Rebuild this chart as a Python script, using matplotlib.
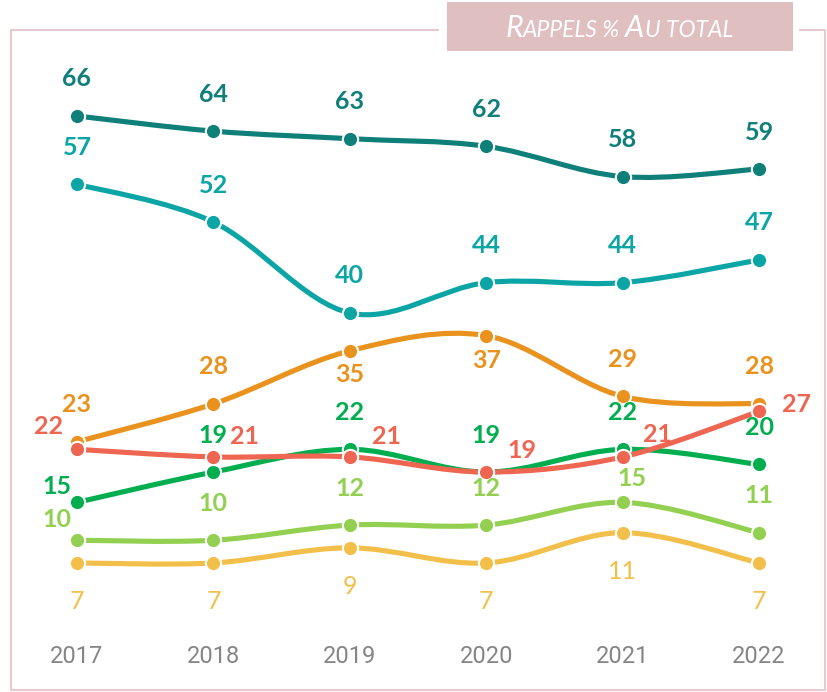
#!/usr/bin/env python3
"""Rappels % au total, 2017-2022"""
import matplotlib
matplotlib.use('Agg')
import matplotlib.pyplot as plt
from matplotlib.path import Path
from matplotlib.patches import PathPatch, Rectangle
from matplotlib.lines import Line2D
from matplotlib.offsetbox import TextArea, HPacker, AnnotationBbox

years = [2017, 2018, 2019, 2020, 2021, 2022]

dark_teal = [66, 64, 63, 62, 58, 59]
teal = [57, 52, 40, 44, 44, 47]
orange = [23, 28, 35, 37, 29, 28]
green = [15, 19, 22, 19, 22, 20]
light_green = [10, 10, 12, 12, 15, 11]
yellow = [7, 7, 9, 7, 11, 7]
red = [22, 21, 21, 19, 21, 27]

W, H = 827, 692


def smooth_path(xs, ys):
    """Excel-like smoothed line (Catmull-Rom bezier)"""
    n = len(xs)
    verts = [(xs[0], ys[0])]
    codes = [Path.MOVETO]
    for i in range(n - 1):
        a = max(i - 1, 0)
        b = min(i + 2, n - 1)
        c1 = (xs[i] + (xs[i + 1] - xs[a]) / 6, ys[i] + (ys[i + 1] - ys[a]) / 6)
        c2 = (xs[i + 1] - (xs[b] - xs[i]) / 6, ys[i + 1] - (ys[b] - ys[i]) / 6)
        verts += [c1, c2, (xs[i + 1], ys[i + 1])]
        codes += [Path.CURVE4] * 3
    return Path(verts, codes)


up = (0, 37)
series = [
    (dark_teal, '#0F7F7A', 'bold', [up] * 6),
    (teal, '#0BA5A6', 'bold', [up] * 6),
    (orange, '#EA921E', 'bold', [up, up, (0, -24), (0, -25), up, up]),
    (green, '#00AE50', 'bold', [(-20, 16), up, up, up, up, up]),
    (light_green, '#93D051', 'bold', [(-20, 21), up, up, up, (9, 24), up]),
    (yellow, '#F2C04A', 'normal', [(0, -39)] * 6),
    (red, '#EE6652', 'bold', [(-28, 23), (31, 20), (37, 20), (36, 22),
                              (35, 22), (37, 7)]),
]

fig = plt.figure(figsize=(W / 100, H / 100), dpi=100)
ax = fig.add_axes([0, 0, 1, 1])
ax.set_axis_off()
ax.set_xlim(2016.4355, 2022.4985)
ax.set_ylim(-10.03, 81.31)

for k, (vals, color, weight, offs) in enumerate(series):
    ax.add_patch(PathPatch(smooth_path(years, vals), facecolor='none',
                           edgecolor=color, lw=3.7, capstyle='round',
                           zorder=2 + k))
    ax.plot(years, vals, 'o', color=color, mec='white', mew=1.5, ms=11,
            zorder=2 + k)
    for x, v, off in zip(years, vals, offs):
        ax.annotate(str(v), (x, v), xytext=off, textcoords='offset pixels',
                    ha='center', va='center', color=color, fontsize=18,
                    fontweight=weight, family=['Lato', 'DejaVu Sans'],
                    zorder=20)

for x in years:
    ax.text(x, -5.3, str(x), ha='center', va='center', color='#858585',
            fontsize=17, family=['Roboto', 'DejaVu Sans'])

# frame with a gap for the title box
frame = '#E6CACD'
fr = [(438, 30), (11, 30), (11, 690), (825, 690), (825, 30), (800, 30)]
fig.add_artist(Line2D([p[0] / W for p in fr], [1 - p[1] / H for p in fr],
                      transform=fig.transFigure, color=frame, lw=1.5))

fig.add_artist(Rectangle((447 / W, 1 - 51 / H), 346 / W, 49 / H,
                         transform=fig.transFigure, facecolor='#E0BFC1',
                         edgecolor='none'))

big = dict(color='white', fontsize=22, style='italic', family='Lato')
small = dict(color='white', fontsize=16.5, style='italic', family='Lato')
parts = [('R', big), ('APPELS % ', small), ('A', big), ('U TOTAL', small)]
title = HPacker(children=[TextArea(t, textprops=p) for t, p in parts],
                align='baseline', pad=0, sep=0)
fig.add_artist(AnnotationBbox(title, (619, H - 28), xycoords='figure pixels',
                              box_alignment=(0.5, 0.5), frameon=False))

fig.savefig('out.png', dpi=100)
